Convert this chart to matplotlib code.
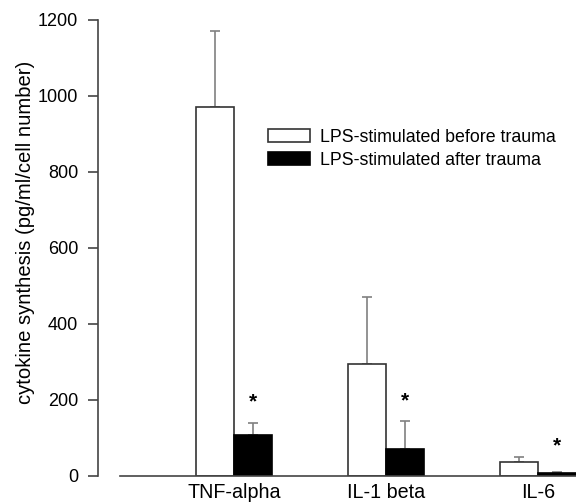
import numpy as np
import matplotlib
matplotlib.use('Agg')
import matplotlib.pyplot as plt

plt.rcParams['font.family'] = ['Liberation Sans', 'DejaVu Sans']

# values
cytokines = ['TNF-alpha', 'IL-1 beta', 'IL-6']
before_mean = [971, 296, 36]
before_err = [200, 174, 14]
after_mean = [108, 71, 8]
after_err = [31, 74, 3]
star_y = [195, 198, 80]
labels = ['LPS-stimulated before trauma', 'LPS-stimulated after trauma']

fig = plt.figure(figsize=(5.76, 5.03), dpi=100)
ax = fig.add_axes([120 / 576, 27 / 503, 456 / 576, 456 / 503])

x = np.arange(1, len(cytokines) + 1)
w = 0.25
axis_col = '#444444'
err_col = '#808080'

ax.bar(x - w / 2, before_mean, w, color='white', edgecolor='#333333',
       linewidth=1.2, label=labels[0], zorder=2)
ax.bar(x + w / 2, after_mean, w, color='black', edgecolor='black',
       linewidth=1.2, label=labels[1], zorder=2)
ax.errorbar(x - w / 2, before_mean, yerr=[np.zeros(3), before_err], fmt='none',
            ecolor=err_col, elinewidth=1.2, capsize=3.6, capthick=1.2, zorder=1)
ax.errorbar(x + w / 2, after_mean, yerr=[np.zeros(3), after_err], fmt='none',
            ecolor=err_col, elinewidth=1.2, capsize=3.6, capthick=1.2, zorder=1)

for xi, yi in zip(x + w / 2, star_y):
    ax.text(xi, yi, '*', ha='center', va='center', fontsize=15,
            fontweight='bold')

ax.set_xlim(0.25, 3.25)
ax.set_ylim(0, 1200)
ax.set_yticks(np.arange(0, 1201, 200))
ax.set_xticks(x + 0.0)
ax.set_xticklabels(cytokines, fontsize=14.2)
ax.tick_params(axis='x', length=0, pad=5)
ax.tick_params(axis='y', direction='out', length=7.2, width=1.2,
               color=axis_col, labelsize=13, pad=7)

for s in ['top', 'right']:
    ax.spines[s].set_visible(False)
ax.spines['left'].set_position(('outward', 15.8))
ax.spines['left'].set_color(axis_col)
ax.spines['left'].set_linewidth(1.2)
ax.spines['bottom'].set_color(axis_col)
ax.spines['bottom'].set_linewidth(1.2)

ax.set_ylabel('cytokine synthesis (pg/ml/cell number)', fontsize=14.6)
ax.yaxis.set_label_coords(-0.186, 0.535)

ax.legend(loc='upper left', bbox_to_anchor=(0.3246, 0.762), frameon=False,
          fontsize=12.8, handlelength=2.35, handleheight=0.8,
          handletextpad=0.55, labelspacing=0.35, borderpad=0,
          borderaxespad=0)

fig.savefig('out.png', dpi=100)
